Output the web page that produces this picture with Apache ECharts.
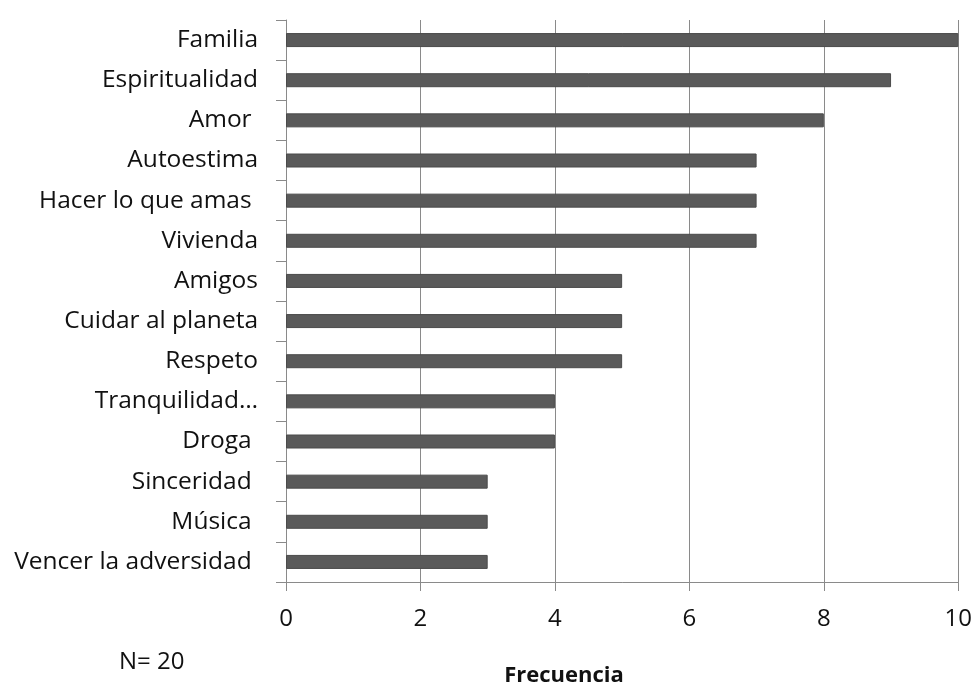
<!DOCTYPE html>
<html>
<head>
<meta charset="utf-8">
<script src="https://cdn.jsdelivr.net/npm/echarts@6/dist/echarts.min.js"></script>
<style>
  html, body { margin: 0; padding: 0; background: #fff; }
  #chart { width: 975px; height: 686px; }
</style>
</head>
<body>
<div id="chart"></div>
<script>
// Values ranked by frequency
const categories = [
  'Familia', 'Espiritualidad', 'Amor ', 'Autoestima', 'Hacer lo que amas ',
  'Vivienda', 'Amigos', 'Cuidar al planeta', 'Respeto', 'Tranquilidad…',
  'Droga ', 'Sinceridad ', 'Música ', 'Vencer la adversidad '
];
const frecuencia = [10, 9, 8, 7, 7, 7, 5, 5, 5, 4, 4, 3, 3, 3];
const xTicks = [0, 2, 4, 6, 8, 10];

const FONT = '"Open Sans", "Liberation Sans", sans-serif';

const chart = echarts.init(document.getElementById('chart'));
chart.setOption({
  animation: false,
  backgroundColor: '#ffffff',
  grid: { left: 286, right: 14, top: 20, bottom: 104, containLabel: false },
  xAxis: {
    type: 'value',
    min: xTicks[0],
    max: xTicks[xTicks.length - 1],
    interval: 2,
    axisLine: { show: true, lineStyle: { color: '#8a8a8a', width: 1 } },
    axisTick: { show: true, length: 9, lineStyle: { color: '#8a8a8a' } },
    splitLine: { show: true, lineStyle: { color: '#8a8a8a', width: 1 } },
    axisLabel: { color: '#111', fontSize: 24, fontFamily: FONT, margin: 25 }
  },
  yAxis: {
    type: 'category',
    inverse: true,
    data: categories,
    axisLine: { show: true, lineStyle: { color: '#8a8a8a', width: 1 } },
    axisTick: { show: true, length: 10, alignWithLabel: false, lineStyle: { color: '#8a8a8a' } },
    axisLabel: { color: '#111', fontSize: 24.5, fontFamily: FONT, margin: 28, interval: 0 }
  },
  series: [{
    type: 'bar',
    data: frecuencia,
    barWidth: 14,
    itemStyle: { color: '#5a5a5a', borderColor: '#4a4a4a', borderWidth: 1 }
  }],
  graphic: [
    { type: 'text', left: 119, top: 650, style: { text: 'N= 20', fontSize: 24, fontFamily: FONT, fill: '#111' } },
    { type: 'text', x: 564, y: 676, style: { text: 'Frecuencia', fontSize: 22, fontWeight: 'bold', fontFamily: FONT, fill: '#111', textAlign: 'center', textVerticalAlign: 'middle' } }
  ]
});
</script>
</body>
</html>
